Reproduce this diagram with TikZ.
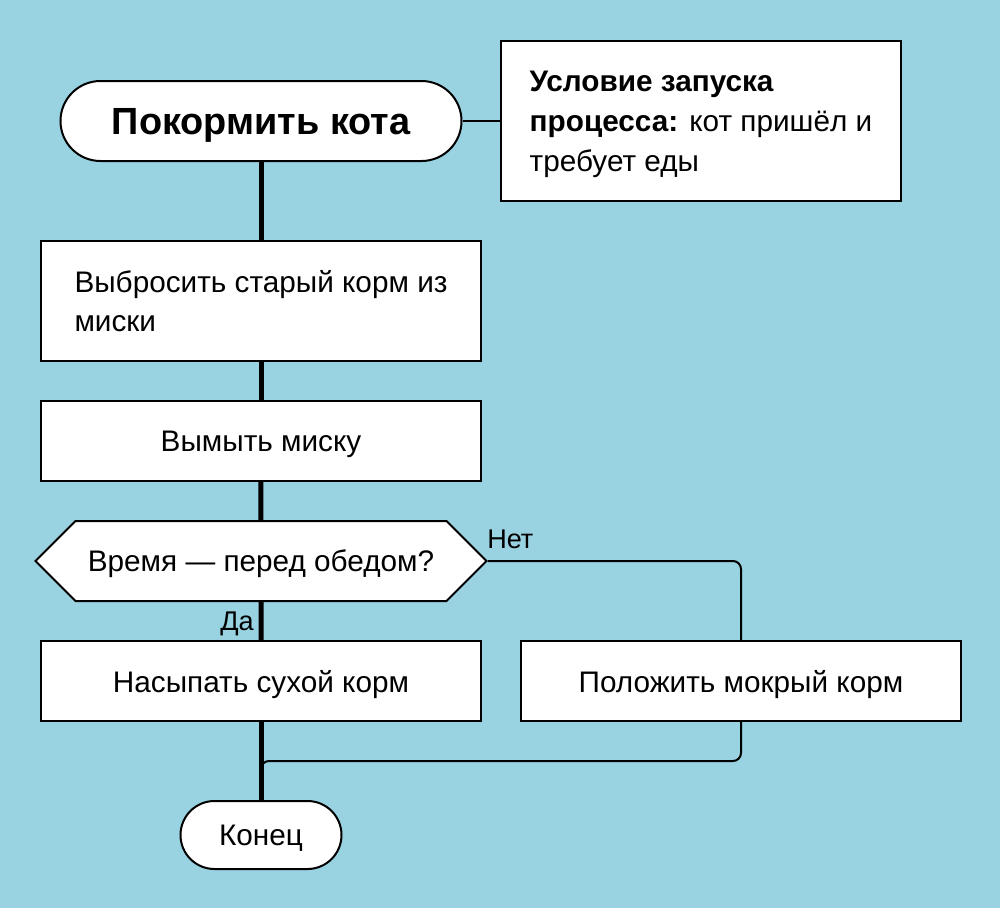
\documentclass[tikz,border=0pt]{standalone}
\usepackage{fontspec}
\setmainfont{Liberation Sans}
\usetikzlibrary{positioning,shapes.symbols}
\definecolor{bgBlue}{HTML}{99D3E1}
\tikzstyle{baseNode}=[draw,fill=white,line width=1.5pt,inner sep=0pt,text depth=0pt,font=\fontsize{22.3}{29.3}\selectfont]
\tikzstyle{stepBox}=[baseNode,rectangle,minimum width=330pt,minimum height=60pt]
\tikzstyle{terminal}=[baseNode,rectangle]
\tikzstyle{question}=[baseNode,signal,signal to=west and east,signal pointer angle=90,minimum width=338.25pt,minimum height=60pt]
\tikzstyle{label}=[inner sep=0pt,font=\fontsize{20.3}{22}\selectfont]
\tikzstyle{mainFlow}=[line width=3.75pt]
\tikzstyle{sideFlow}=[line width=1.5pt,rounded corners=6pt]

\begin{document}
\begin{tikzpicture}[x=0.75pt,y=-0.75pt]

    \fill[bgBlue] (0,0) rectangle (1000,908);

    \node[terminal,minimum width=300.75pt,minimum height=60pt,rounded corners=30pt,
          font=\fontsize{28.4}{32}\bfseries\selectfont] (start) at (261,121) {Покормить кота};
    \node[stepBox,minimum width=300pt,minimum height=120pt,align=left,
          font=\fontsize{22.3}{30}\selectfont] (trigger) at (701,121)
        {\textbf{Условие запуска}\\\textbf{процесса:} кот пришёл и\\требует еды};

    \node[stepBox,minimum height=90pt,align=left] (dump) at (261,301)
        {Выбросить старый корм из\\миски};
    \node[stepBox] (wash) at (261,441) {Вымыть миску};
    \node[question] (lunch) at (261,561) {Время — перед обедом?};
    \node[stepBox] (dry) at (261,681) {Насыпать сухой корм};
    \node[stepBox] (wet) at (741,681) {Положить мокрый корм};
    \node[terminal,minimum width=120.75pt,minimum height=51pt,rounded corners=25.5pt] (finish) at (261,835) {Конец};

    \node[label,anchor=base west] (no) at (487,548) {Нет};
    \node[label,anchor=base east] (yes) at (254,630) {Да};

    \coordinate (merge) at (261,761);

    \draw[line width=1.5pt] (start) -- (trigger);

    \draw[mainFlow] (start) -- (dump);
    \draw[mainFlow] (dump) -- (wash);
    \draw[mainFlow] (wash) -- (lunch);
    \draw[mainFlow] (lunch) -- (dry);
    \draw[mainFlow] (dry) -- (finish);

    \draw[sideFlow] (lunch.east) -| (wet.north);
    \draw[sideFlow] (wet.south) |- (merge) -- (finish.north);

\end{tikzpicture}
\end{document}
